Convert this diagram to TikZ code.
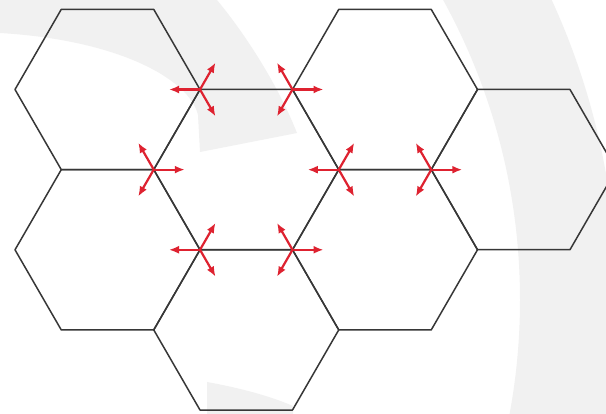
\documentclass[tikz,border=0pt]{standalone}
\usetikzlibrary{arrows.meta,calc}
\definecolor{hexc}{RGB}{55,55,55}
\definecolor{arrc}{RGB}{222,34,48}
\definecolor{bgc}{RGB}{241,241,241}
\begin{document}
\begin{tikzpicture}[x=1pt,y=-1pt,
  hexline/.style={draw=hexc,line width=1.5pt,line join=round},
  redarrow/.style={draw=arrc,line width=2.2pt,-{Latex[length=10pt,width=8pt]}},
  bgband/.style={fill=bgc}]
\useasboundingbox (0,0) rectangle (606,414);
\clip (0,0) rectangle (606,414);
\fill[white] (0,0) rectangle (606,414);
% faint background watermark
\fill[bgband, even odd rule] (-103,300) circle[radius=720] (-103,300) circle[radius=623];
\fill[bgband] (0,0) -- (217,0) .. controls (250,40) and (280,90) .. (297,133)
  -- (200,152) -- (198,115) .. controls (190,80) and (120,40) .. (0,33) -- cycle;
\fill[bgband] (207,382) .. controls (240,388) and (270,396) .. (293,406) -- (293,414) -- (207,414) -- cycle;
% hexagon centres
\coordinate (A) at (107.5,89.5);
\coordinate (B) at (385,89.5);
\coordinate (C) at (246.25,169.6);
\coordinate (D) at (107.5,249.8);
\coordinate (E) at (246.25,329.9);
\coordinate (F) at (385,249.8);
\coordinate (R) at (523.75,169.6);
\foreach \c in {A,B,C,D,E,F,R}
  \draw[hexline] (\c) +(0:92.5) -- +(60:92.5) -- +(120:92.5) -- +(180:92.5)
    -- +(240:92.5) -- +(300:92.5) -- cycle;
% vertices carrying arrows
\coordinate (v1) at ($(A)+(0:92.5)$);
\coordinate (v2) at ($(B)+(180:92.5)$);
\coordinate (v3) at ($(A)+(60:92.5)$);
\coordinate (v4) at ($(F)+(240:92.5)$);
\coordinate (v5) at ($(F)+(300:92.5)$);
\coordinate (v6) at ($(E)+(240:92.5)$);
\coordinate (v7) at ($(E)+(300:92.5)$);
\foreach \v in {v1,v4,v6}
  \foreach \a in {180,60,300}
    \draw[redarrow] (\v) -- ++(\a:31);
\foreach \v in {v2,v3,v5,v7}
  \foreach \a in {0,120,240}
    \draw[redarrow] (\v) -- ++(\a:31);
\end{tikzpicture}
\end{document}
